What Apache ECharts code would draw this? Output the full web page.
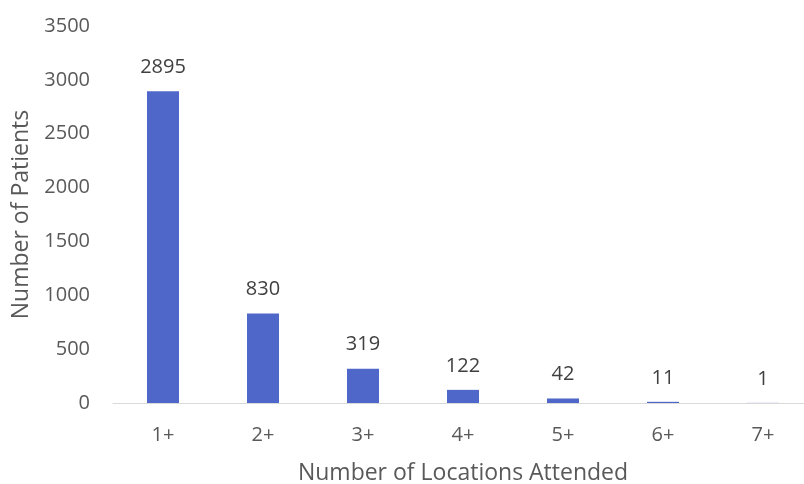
<!DOCTYPE html>
<html><head><meta charset="utf-8">
<script src="https://cdn.jsdelivr.net/npm/echarts@6/dist/echarts.min.js"></script>
<style>html,body{margin:0;padding:0;background:#fff}#c{width:804px;height:484px}</style>
</head><body><div id="c"></div>
<script>
const categories = ['1+','2+','3+','4+','5+','6+','7+'];
const patients = [2895, 830, 319, 122, 42, 11, 1];
const yTicks = [0, 500, 1000, 1500, 2000, 2500, 3000, 3500];

const font = '"Open Sans", sans-serif';
const chart = echarts.init(document.getElementById('c'));
chart.setOption({
  animation: false,
  grid: {left: 113, top: 26, width: 700, height: 377, containLabel: false, outerBoundsMode: 'none'},
  xAxis: {
    type: 'category', data: categories,
    axisLine: {lineStyle: {color: '#d9d9d9', width: 1}},
    axisTick: {show: false},
    axisLabel: {color: '#595959', fontFamily: font, fontSize: 20, margin: 22},
    name: 'Number of Locations Attended', nameLocation: 'middle', nameGap: 59,
    nameTextStyle: {color: '#595959', fontFamily: font, fontSize: 23}
  },
  yAxis: {
    type: 'value', min: yTicks[0], max: yTicks[yTicks.length - 1], interval: yTicks[1] - yTicks[0],
    splitLine: {show: false}, axisLine: {show: false}, axisTick: {show: false},
    axisLabel: {color: '#595959', fontFamily: font, fontSize: 20, margin: 23,
      formatter: v => String(v)},
    name: 'Number of Patients', nameLocation: 'middle', nameGap: 80, nameRotate: 90,
    nameTextStyle: {color: '#595959', fontFamily: font, fontSize: 23}
  },
  series: [{
    type: 'bar', data: patients, barWidth: 32,
    itemStyle: {color: '#4f67c8'},
    label: {show: true, position: 'top', distance: 14, color: '#404040', fontFamily: font, fontSize: 20}
  }]
});
</script></body></html>
